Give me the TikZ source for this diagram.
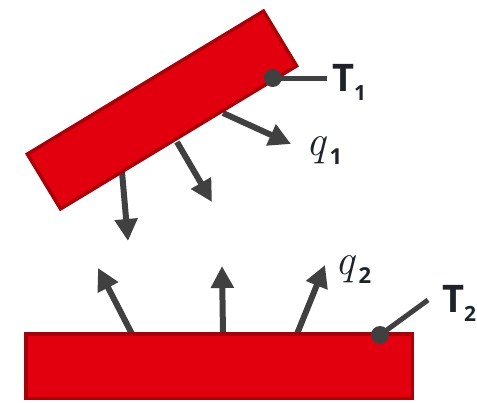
\documentclass[tikz,border=0pt]{standalone}
\usepackage{fontspec}
\setmainfont{Open Sans}
\newfontfamily\qfont{Latin Modern Roman}
\usetikzlibrary{arrows.meta}
\definecolor{redfill}{HTML}{E2000F}
\definecolor{redline}{HTML}{A80008}
\definecolor{arrowgray}{HTML}{404040}
\definecolor{txt}{HTML}{1E232A}
\begin{document}
\begin{tikzpicture}[x=1pt,y=-1pt,
  plate/.style={draw=redline, fill=redfill, line width=3.5pt, inner sep=0pt, rectangle},
  flux/.style={draw=arrowgray, line width=6pt, -{Triangle[length=22pt,width=22pt]}},
  lead/.style={draw=arrowgray, line width=5pt},
  sensor/.style={circle, fill=arrowgray, minimum size=18pt, inner sep=0pt},
  tlab/.style={text=txt, inner sep=0pt, anchor=base west, font=\fontsize{38}{40}\selectfont\bfseries},
  qlab/.style={text=txt, inner sep=0pt, anchor=base west, font=\fontsize{43}{45}\selectfont}]
\useasboundingbox (0,0) rectangle (477,402);
% arrow start/end coordinates
\coordinate (a1s) at (223,113); \coordinate (a1e) at (291,144);
\coordinate (a2s) at (177,142); \coordinate (a2e) at (212,202);
\coordinate (a3s) at (122,172); \coordinate (a3e) at (128,241);
\coordinate (b1s) at (132,334); \coordinate (b1e) at (98,268);
\coordinate (b2s) at (223,334); \coordinate (b2e) at (222,266);
\coordinate (b3s) at (297,334); \coordinate (b3e) at (325,265);
% arrows
\draw[flux] (a1s) -- (a1e);
\draw[flux] (a2s) -- (a2e);
\draw[flux] (a3s) -- (a3e);
\draw[flux] (b1s) -- (b1e);
\draw[flux] (b2s) -- (b2e);
\draw[flux] (b3s) -- (b3e);
% plates
\node[plate, minimum width=276pt, minimum height=64pt, rotate=31.2] (p1) at (162,110) {};
\node[plate, minimum width=386.5pt, minimum height=64.5pt] (p2) at (219,366) {};
% sensors
\node[sensor] (s1) at (272.7,78) {};
\coordinate (l1) at (327,78);
\draw[lead] (s1.center) -- (l1);
\node[sensor] (s2) at (380,335) {};
\coordinate (l2) at (428,300);
\draw[lead] (s2.center) -- (l2);
% labels
\node[tlab] (t1) at (332,91) {T\raisebox{-9pt}{\fontsize{21}{22}\selectfont\bfseries 1}};
\node[tlab] (t2) at (442,312) {T\raisebox{-9pt}{\fontsize{21}{22}\selectfont\bfseries 2}};
\node[qlab] (q1) at (306,155) {{\qfont\itshape q}\hspace{4pt}\raisebox{-9pt}{\fontsize{22}{23}\selectfont\bfseries 1}};
\node[qlab] (q2) at (335,274) {{\qfont\itshape q}\hspace{4pt}\raisebox{-9pt}{\fontsize{22}{23}\selectfont\bfseries 2}};
\end{tikzpicture}
\end{document}
